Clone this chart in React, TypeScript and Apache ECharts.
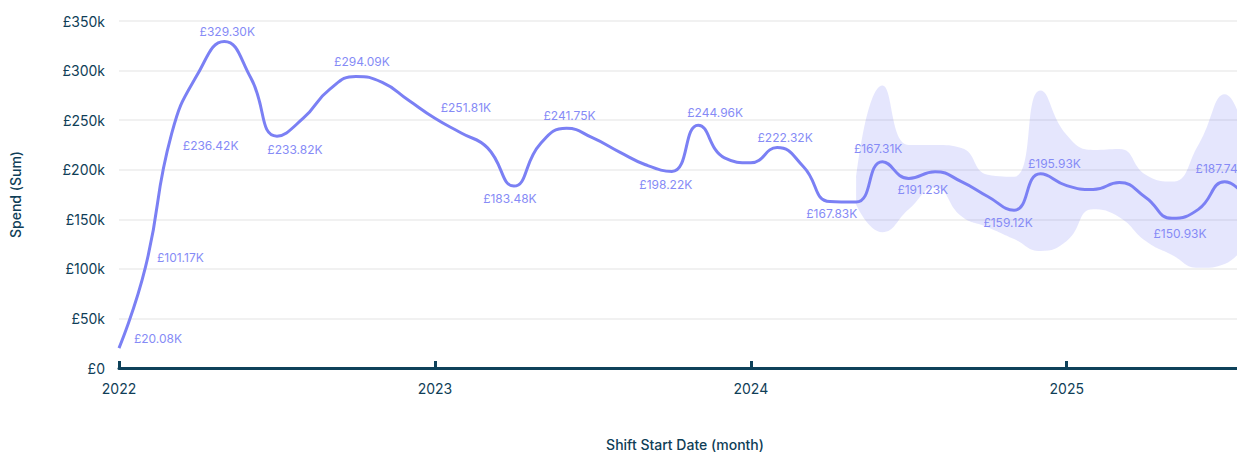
import React, { useEffect, useRef } from "react";
import * as echarts from "echarts";

// Months Jan 2022 .. Aug 2025
const months: string[] = [];
for (let y = 2022; y <= 2025; y++) {
  for (let m = 1; m <= 12; m++) {
    if (y === 2025 && m > 8) break;
    months.push(`${y}-${String(m).padStart(2, "0")}`);
  }
}

// Spend (Sum) in £ thousands
const spend = [
  20.08, 101.17, 236.42, 297, 329.30, 293, 233.82, 252, 281, 294.09, 288, 270,
  251.81, 237, 222, 183.48, 226, 241.75, 232, 218, 205, 198.22, 244.96, 212,
  207, 222.32, 203, 167.83, 167.31, 208, 191.23, 198, 188, 173, 159.12, 195.93,
  184, 180, 187, 172, 150.93, 160, 187.74, 165,
];

// Forecast band (£ thousands), from May 2024
const bandLower = [
  null, null, null, null, null, null, null, null, null, null, null, null,
  null, null, null, null, null, null, null, null, null, null, null, null,
  null, null, null, null, 165, 137, 160, 182, 153, 142, 130, 118,
  128, 160, 152, 128, 114, 101, 105, 135,
];
const bandUpper = [
  null, null, null, null, null, null, null, null, null, null, null, null,
  null, null, null, null, null, null, null, null, null, null, null, null,
  null, null, null, null, 192, 285, 225, 225, 222, 195, 193, 280,
  235, 220, 221, 195, 188, 225, 276, 205,
];

// Which points carry a value label, and where the label sits (offset in px)
const labelIndices = [0, 1, 2, 4, 6, 9, 12, 15, 17, 21, 22, 25, 27, 28, 30, 34, 35, 40, 42];
const labelOffsets: [number, number][] = [
  [39, -10], [35, -10], [39, 12], [3, -10], [18, 13], [6, -15], [31, -11],
  [-4, 12], [3, -13], [-6, 13], [17, -13], [8, -10], [2, 12], [22, -54],
  [14, 11], [-6, 12], [14, -10], [8, 15], [-4, -13],
];

const yTicks = [0, 50, 100, 150, 200, 250, 300, 350];

const TEXT = "#0f3e57";
const LINE = "#7b80f4";
const FONT = "Inter, 'Noto Sans', sans-serif";
const SMOOTH = 0.5;

export default function App() {
  const ref = useRef<HTMLDivElement>(null);
  useEffect(() => {
    if (!ref.current) return;
    const chart = echarts.init(ref.current, null, { renderer: "svg" });

    const lineData = spend.map((v, i) => {
      const k = labelIndices.indexOf(i);
      if (k < 0) return { value: v };
      return {
        value: v,
        label: {
          show: true,
          position: "inside",
          offset: labelOffsets[k],
          formatter: () => `£${v.toFixed(2)}K`,
        },
      };
    });
    const diff = bandUpper.map((u, i) =>
      u == null || bandLower[i] == null ? null : (u as number) - (bandLower[i] as number)
    );

    chart.setOption({
      animation: false,
      textStyle: { fontFamily: FONT },
      grid: { left: 119, right: 19, top: 21, bottom: 81, containLabel: false },
      xAxis: {
        type: "category",
        data: months,
        boundaryGap: false,
        name: "Shift Start Date (month)",
        nameLocation: "middle",
        nameGap: 69,
        nameTextStyle: { color: TEXT, fontSize: 14, fontWeight: 500, fontFamily: FONT },
        axisLine: { show: true, lineStyle: { color: "#0e415a", width: 3 } },
        axisTick: {
          show: true,
          inside: true,
          interval: 11,
          length: 7,
          lineStyle: { color: "#0e415a", width: 3 },
        },
        axisLabel: {
          interval: 11,
          margin: 13,
          color: TEXT,
          fontSize: 14,
          fontFamily: FONT,
          formatter: (v: string) => v.slice(0, 4),
        },
        splitLine: { show: false },
      },
      yAxis: {
        type: "value",
        min: yTicks[0],
        max: yTicks[yTicks.length - 1],
        interval: 50,
        name: "Spend (Sum)",
        nameLocation: "middle",
        nameRotate: 90,
        nameGap: 97,
        nameTextStyle: { color: TEXT, fontSize: 14, fontWeight: 500, fontFamily: FONT },
        axisLine: { show: false },
        axisTick: { show: false },
        axisLabel: {
          margin: 14,
          color: TEXT,
          fontSize: 14,
          fontFamily: FONT,
          formatter: (v: number) => (v === 0 ? "£0" : `£${v}k`),
        },
        splitLine: { show: true, lineStyle: { color: "#f1f1f1", width: 2 } },
      },
      series: [
        {
          type: "line",
          data: bandLower,
          stack: "band",
          smooth: SMOOTH,
          symbol: "none",
          lineStyle: { opacity: 0 },
          silent: true,
          z: 1,
        },
        {
          type: "line",
          data: diff,
          stack: "band",
          smooth: SMOOTH,
          symbol: "none",
          lineStyle: { opacity: 0 },
          areaStyle: { color: "rgba(123,128,245,0.2)", opacity: 1 },
          silent: true,
          z: 1,
        },
        {
          type: "line",
          data: lineData,
          smooth: SMOOTH,
          showSymbol: true,
          symbol: "circle",
          symbolSize: 1,
          itemStyle: { color: "transparent" },
          lineStyle: { color: LINE, width: 3 },
          label: {
            show: false,
            color: "#868bf6",
            fontSize: 12,
            fontFamily: FONT,
          },
          emphasis: { disabled: true },
          silent: true,
          z: 3,
        },
      ],
    });
    return () => chart.dispose();
  }, []);

  return (
    <div
      style={{
        position: "absolute",
        left: 0,
        top: 0,
        width: 1237,
        height: 456,
        overflow: "hidden",
        background: "#fff",
      }}
    >
      <div ref={ref} style={{ width: 1270, height: 456 }} />
    </div>
  );
}
